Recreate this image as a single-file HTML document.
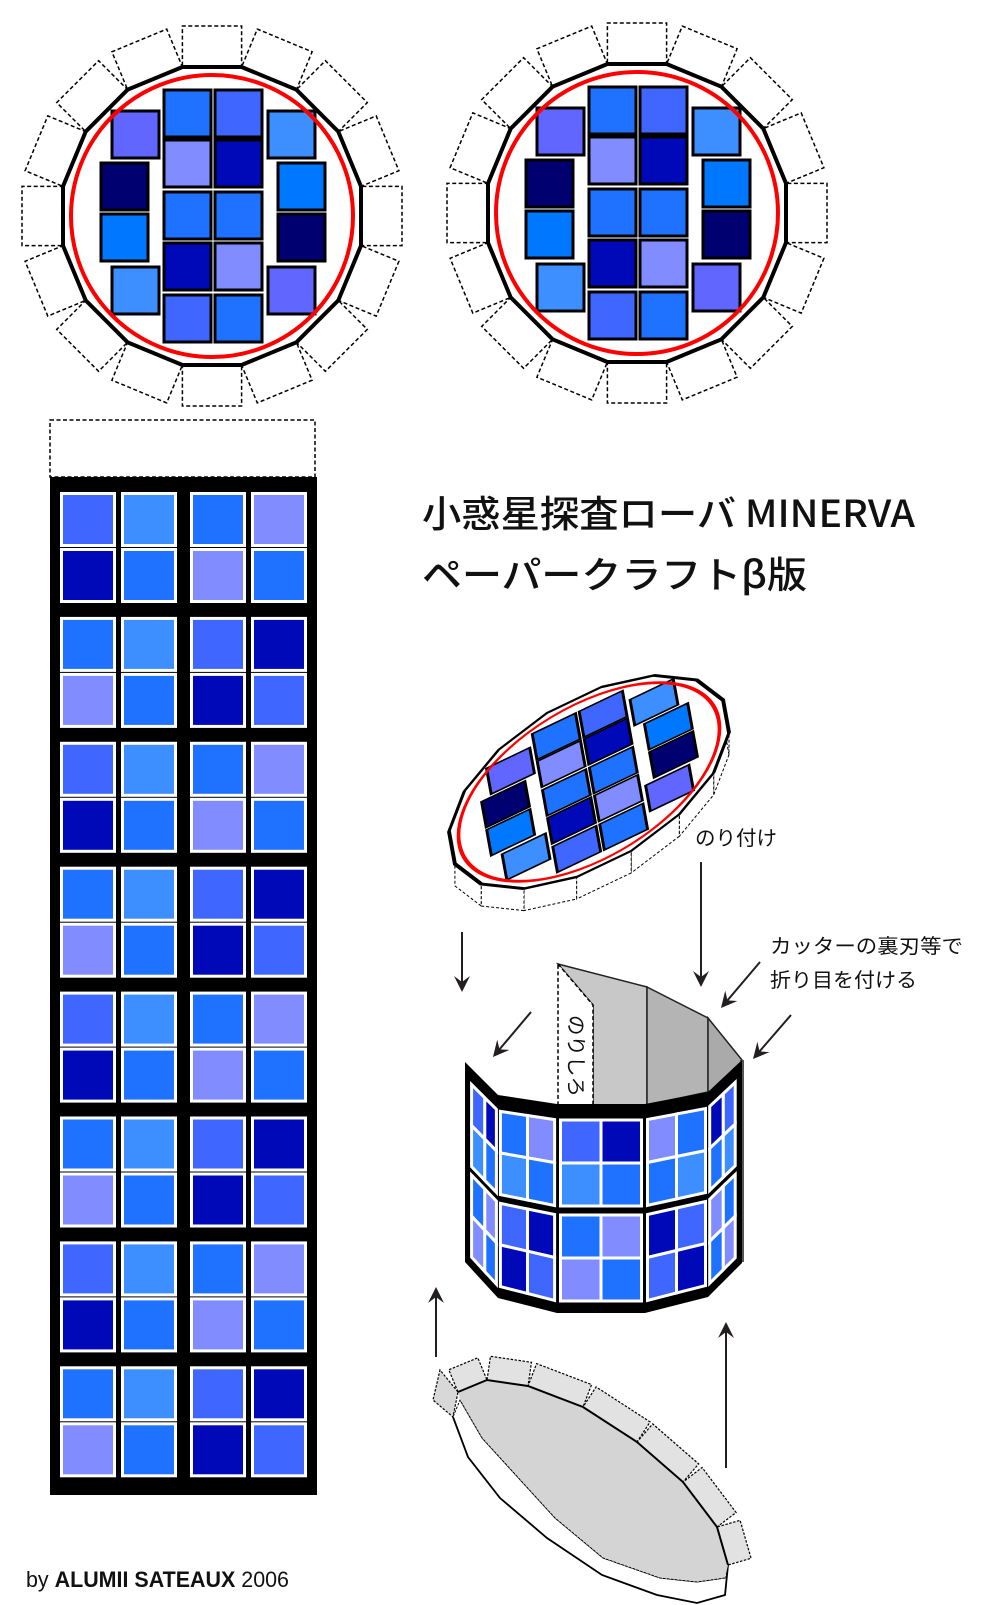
<!DOCTYPE html>
<html><head><meta charset="utf-8">
<style>
html,body{margin:0;padding:0;background:#fff;}
svg{display:block;}
text{font-family:"Noto Sans CJK JP","Liberation Sans",sans-serif;fill:#111;}
</style></head>
<body>
<svg id="s" width="1000" height="1605" viewBox="0 0 1000 1605" xmlns="http://www.w3.org/2000/svg">
<g id="g"></g>
<text x="422" y="527" font-size="37" font-weight="500" textLength="493" lengthAdjust="spacingAndGlyphs">小惑星探査ローバ MINERVA</text>
<text x="422" y="588" font-size="37" font-weight="500" textLength="385" lengthAdjust="spacingAndGlyphs">ペーパークラフトβ版</text>
<text x="695" y="845" font-size="20" textLength="82" lengthAdjust="spacingAndGlyphs">のり付け</text>
<text x="770" y="953" font-size="20" textLength="193" lengthAdjust="spacingAndGlyphs">カッターの裏刃等で</text>
<text x="770" y="987" font-size="20" textLength="147" lengthAdjust="spacingAndGlyphs">折り目を付ける</text>
<text x="26" y="1587" font-size="22" style="font-family:'Liberation Sans',sans-serif" textLength="263" lengthAdjust="spacingAndGlyphs">by <tspan font-weight="bold">ALUMII SATEAUX</tspan> 2006</text>
<text id="nori" transform="translate(569,1015) rotate(90)" font-size="20" textLength="82" lengthAdjust="spacingAndGlyphs">のりしろ</text>
</svg>
<script>
(function(){
var C={c1:"#3f66ff",c2:"#3d8eff",c3:"#1f72ff",c4:"#808cff",c5:"#0009b8",c6:"#000070",c7:"#0077ff",c8:"#6066ff"};
var out=[];
function P(pts){return pts.map(function(p){return p[0].toFixed(1)+","+p[1].toFixed(1)}).join(" ");}
function poly(pts,attr){out.push('<polygon points="'+P(pts)+'" '+attr+'/>');}
function line(x1,y1,x2,y2,attr){out.push('<line x1="'+x1+'" y1="'+y1+'" x2="'+x2+'" y2="'+y2+'" '+attr+'/>');}
var R=149/Math.cos(Math.PI/16);
function verts(){var v=[];for(var k=0;k<16;k++){var a=(11.25+22.5*k)*Math.PI/180;v.push([R*Math.cos(a),R*Math.sin(a)]);}return v;}
var sq=[
[-48,-126,"c3"],[3,-126,"c1"],[-48,-76,"c4"],[3,-76,"c5"],[-48,-24,"c3"],[3,-24,"c3"],[-48,27,"c5"],[3,27,"c4"],[-48,79,"c1"],[3,79,"c3"],
[-100,-105,"c8"],[-111,-53,"c6"],[-111,-2,"c7"],[-100,51,"c2"],[56,-105,"c2"],[66,-53,"c7"],[66,-2,"c6"],[56,51,"c8"]];
function inner(){
  var v=verts();
  poly(v,'fill="#fff" stroke="#000" stroke-width="4"');
  sq.forEach(function(s){out.push('<rect x="'+s[0]+'" y="'+s[1]+'" width="47" height="47" fill="'+C[s[2]]+'" stroke="#000" stroke-width="3"/>');});
  out.push('<circle cx="0" cy="0" r="141" fill="none" stroke="#f00" stroke-width="4"/>');
}
function circ(cx,cy){
  out.push('<g transform="translate('+cx+','+cy+')">');
  var v=verts();
  for(var k=0;k<16;k++){var a=v[k],b=v[(k+1)%16];var mx=(a[0]+b[0])/2,my=(a[1]+b[1])/2;var l=Math.hypot(mx,my);var n=[mx/l*41,my/l*41];
    poly([a,b,[b[0]+n[0],b[1]+n[1]],[a[0]+n[0],a[1]+n[1]]],'fill="#fff" stroke="#000" stroke-width="1.5" stroke-dasharray="4,2.5"');}
  inner();
  out.push('</g>');
}
circ(212,216);circ(637,213);
(function(){
  var m=[0.92,-0.44,0.1,0.55,589,782];
  function T(p){return [m[0]*p[0]+m[2]*p[1]+m[4],m[1]*p[0]+m[3]*p[1]+m[5]];}
  var vv=verts(),v=vv.map(T);
  for(var k=0;k<16;k++){var a=v[k],b=v[(k+1)%16];
    var mid=(vv[k][1]+vv[(k+1)%16][1])/2, midx=(vv[k][0]+vv[(k+1)%16][0])/2;
    if(mid+midx*0.35>-20){poly([a,b,[b[0],b[1]+22],[a[0],a[1]+22]],'fill="#fff" stroke="#000" stroke-width="1" stroke-dasharray="3,2"');}}
  out.push('<g transform="matrix('+m.join(",")+')">');inner();out.push('</g>');
})();
out.push('<rect x="50" y="420" width="265" height="57" fill="#fff" stroke="#000" stroke-width="1.5" stroke-dasharray="4,2.5"/>');
out.push('<rect x="50" y="477" width="267" height="1018" fill="#000"/>');
var A=[["c1","c2","c3","c4"],["c5","c3","c4","c3"]],B=[["c3","c2","c1","c5"],["c4","c3","c5","c1"]];
var colx=[60,121,190,251];
for(var bb=0;bb<8;bb++){var ty=492+bb*124.9;var pat=bb%2?B:A;
  for(var r=0;r<2;r++)for(var c=0;c<4;c++){
    out.push('<rect x="'+(colx[c]+1.5)+'" y="'+(ty+r*56+1.5).toFixed(1)+'" width="53" height="52" fill="'+C[pat[r][c]]+'" stroke="#fff" stroke-width="3"/>');}}
poly([[558,964],[647,987],[647,1105],[593,1105],[593,1005]],'fill="#c8c8c8" stroke="#222" stroke-width="1.5"');
poly([[647,987],[708,1018],[708,1092],[647,1105]],'fill="#b4b4b4" stroke="#222" stroke-width="1.5"');
poly([[708,1018],[742,1060],[742,1075],[708,1092]],'fill="#aaa" stroke="#222" stroke-width="1.5"');
poly([[558,964],[593,1005],[593,1105],[558,1105]],'fill="#fff" stroke="#000" stroke-width="1.5" stroke-dasharray="4,2.5"');
line(742,1060,742,1262,'stroke="#555" stroke-width="4"');
var X=[465,498,557,645,708,742],TY=[1062,1095,1104,1104,1092,1060],BY=[1262,1298,1313,1313,1297,1263];
var outline=[];for(var i=0;i<6;i++)outline.push([X[i],TY[i]]);for(var i=5;i>=0;i--)outline.push([X[i],BY[i]]);
poly(outline,'fill="#000"');
var cols=[[["c1","c5"],["c2","c3"],["c3","c4"],["c4","c3"]],[["c3","c4"],["c2","c3"],["c1","c5"],["c5","c1"]],[["c1","c5"],["c2","c3"],["c3","c4"],["c4","c3"]],[["c4","c3"],["c3","c2"],["c5","c1"],["c1","c5"]],[["c5","c1"],["c3","c2"],["c4","c3"],["c3","c4"]]];
var ur=[[0.2,0.6,0.95],[0.04,0.5,0.96],[0.04,0.5,0.96],[0.04,0.5,0.96],[0.05,0.45,0.8]];
var vr=[[0,0.2375],[0.2375,0.475],[0.525,0.7625],[0.7625,1]];
for(var p=0;p<5;p++){
  var pt=function(u,v){var x=X[p]+u*(X[p+1]-X[p]);var yt=TY[p]+u*(TY[p+1]-TY[p])+16;var yb=BY[p]+u*(BY[p+1]-BY[p])-12;return [x,yt+v*(yb-yt)];};
  for(var r=0;r<4;r++)for(var c=0;c<2;c++){var u0=ur[p][c],u1=ur[p][c+1],v0=vr[r][0],v1=vr[r][1];
    poly([pt(u0,v0),pt(u1,v0),pt(u1,v1),pt(u0,v1)],'fill="'+C[cols[p][r][c]]+'" stroke="#fff" stroke-width="3"');}}
var U=[[458,1392],[487,1380],[528,1386],[583,1407],[637,1442],[683,1482],[717,1527],[728,1565]];
var L=[[725,1578],[697,1582],[660,1578],[603,1558],[555,1518],[482,1438],[460,1400]];
var O=[[453,1417],[468,1457],[500,1498],[547,1538],[602,1575],[657,1595],[697,1603],[725,1595],[728,1565]];
for(var i=0;i<U.length-1;i++){var a=U[i],b=U[i+1];var dx=b[0]-a[0],dy=b[1]-a[1],l=Math.hypot(dx,dy);var n=[dy/l*24,-dx/l*24];
  poly([a,b,[b[0]+n[0],b[1]+n[1]],[a[0]+n[0],a[1]+n[1]]],'fill="#e2e2e2" stroke="#000" stroke-width="1.2" stroke-dasharray="2.5,1.5"');}
poly([[458,1392],[440,1370],[433,1400],[453,1417]],'fill="#d8d8d8" stroke="#000" stroke-width="1.2" stroke-dasharray="2.5,1.5"');
var side=L.slice().reverse().concat(O.slice().reverse());
poly(side,'fill="#fff" stroke="#000" stroke-width="1" stroke-dasharray="2.5,1.5"');
out.push('<polyline points="'+P(O)+'" fill="none" stroke="#000" stroke-width="1.8"/>');
poly(U.concat(L),'fill="#d4d4d4" stroke="none"');
out.push('<polyline points="'+P(U)+'" fill="none" stroke="#000" stroke-width="2"/>');
out.push('<polyline points="'+P(L)+'" fill="none" stroke="#000" stroke-width="1" stroke-dasharray="2.5,1.5"/>');
function arrow(x1,y1,x2,y2){var dx=x2-x1,dy=y2-y1,l=Math.hypot(dx,dy),ux=dx/l,uy=dy/l,nx=-uy,ny=ux;
  var hl=16,hw=8;var bx=x2-ux*hl,by=y2-uy*hl;
  line(x1,y1,(x2-ux*8).toFixed(1),(y2-uy*8).toFixed(1),'stroke="#231f20" stroke-width="2"');
  poly([[x2,y2],[bx+nx*hw,by+ny*hw],[x2-ux*10,y2-uy*10],[bx-nx*hw,by-ny*hw]],'fill="#231f20"');}
arrow(462,932,462,992);arrow(701,862,701,987);arrow(531,1012,493,1057);arrow(760,962,721,1008);
arrow(791,1015,753,1059);arrow(436,1357,436,1287);arrow(726,1468,726,1322);
document.getElementById("g").innerHTML=out.join("");
})();
</script>
</body></html>
